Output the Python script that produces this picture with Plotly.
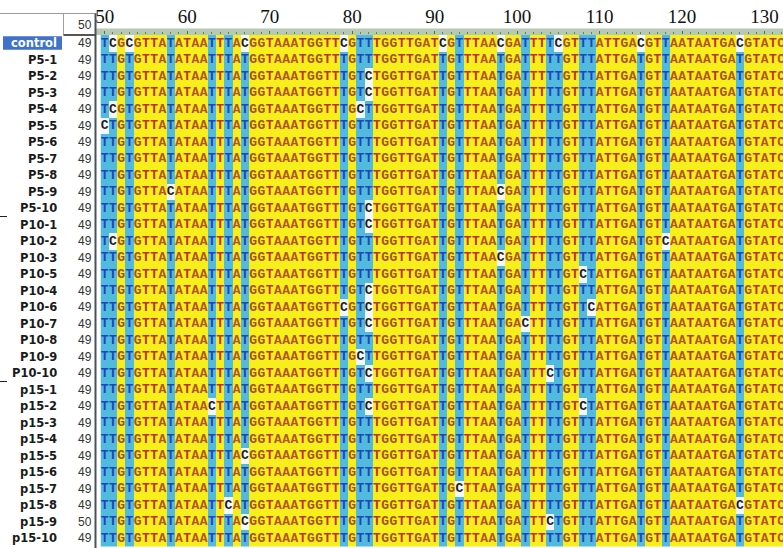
import plotly.graph_objects as go

W, H = 783, 548

# ---------------- data ----------------
row_names = ["control",
             "P5-1", "P5-2", "P5-3", "P5-4", "P5-5", "P5-6", "P5-7", "P5-8", "P5-9", "P5-10",
             "P10-1", "P10-2", "P10-3", "P10-5", "P10-4", "P10-6", "P10-7", "P10-8", "P10-9", "P10-10",
             "p15-1", "p15-2", "p15-3", "p15-4", "p15-5", "p15-6", "p15-7", "p15-8", "p15-9", "p15-10"]

start_numbers = [49,
                 49, 49, 49, 49, 49, 49, 49, 49, 49, 49,
                 49, 49, 49, 49, 49, 49, 49, 49, 49, 49,
                 49, 49, 49, 49, 49, 49, 49, 49, 50, 49]

header_number = 50
first_position = 50
ruler_labels = [50, 60, 70, 80, 90, 100, 110, 120, 130]

sequences_raw = [
    "TCGCGTTATA TAATTTACGG TAAATGGTTC GTTTGGTTGA TCGTTTAACG ATTTTCGTTT ATTGACGTTA ATAATGACGT ATC",  # control
    "TTGTGTTATA TAATTTATGG TAAATGGTTT GTTTGGTTGA TTGTTTAATG ATTTTTGTTT ATTGATGTTA ATAATGATGT ATC",  # P5-1
    "TTGTGTTATA TAATTTATGG TAAATGGTTT GTCTGGTTGA TTGTTTAATG ATTTTTGTTT ATTGATGTTA ATAATGATGT ATC",  # P5-2
    "TTGTGTTATA TAATTTATGG TAAATGGTTT GTCTGGTTGA TTGTTTAATG ATTTTTGTTT ATTGATGTTA ATAATGATGT ATC",  # P5-3
    "TCGTGTTATA TAATTTATGG TAAATGGTTT GCTTGGTTGA TTGTTTAATG ATTTTTGTTT ATTGATGTTA ATAATGATGT ATC",  # P5-4
    "CTGTGTTATA TAATTTATGG TAAATGGTTT GTTTGGTTGA TTGTTTAATG ATTTTTGTTT ATTGATGTTA ATAATGATGT ATC",  # P5-5
    "TTGTGTTATA TAATTTATGG TAAATGGTTT GTTTGGTTGA TTGTTTAATG ATTTTTGTTT ATTGATGTTA ATAATGATGT ATC",  # P5-6
    "TTGTGTTATA TAATTTATGG TAAATGGTTT GTTTGGTTGA TTGTTTAATG ATTTTTGTTT ATTGATGTTA ATAATGATGT ATC",  # P5-7
    "TTGTGTTATA TAATTTATGG TAAATGGTTT GTTTGGTTGA TTGTTTAATG ATTTTTGTTT ATTGATGTTA ATAATGATGT ATC",  # P5-8
    "TTGTGTTACA TAATTTATGG TAAATGGTTT GTTTGGTTGA TTGTTTAACG ATTTTTGTTT ATTGATGTTA ATAATGATGT ATC",  # P5-9
    "TTGTGTTATA TAATTTATGG TAAATGGTTT GTCTGGTTGA TTGTTTAATG ATTTTTGTTT ATTGATGTTA ATAATGATGT ATC",  # P5-10
    "TTGTGTTATA TAATTTATGG TAAATGGTTT GTCTGGTTGA TTGTTTAATG ATTTTTGTTT ATTGATGTTA ATAATGATGT ATC",  # P10-1
    "TCGTGTTATA TAATTTATGG TAAATGGTTT GTTTGGTTGA TTGTTTAATG ATTTTTGTTT ATTGATGTCA ATAATGATGT ATC",  # P10-2
    "TTGTGTTATA TAATTTATGG TAAATGGTTT GTTTGGTTGA TTGTTTAACG ATTTTTGTTT ATTGATGTTA ATAATGATGT ATC",  # P10-3
    "TTGTGTTATA TAATTTATGG TAAATGGTTT GTTTGGTTGA TTGTTTAATG ATTTTTGTCT ATTGATGTTA ATAATGATGT ATC",  # P10-5
    "TTGTGTTATA TAATTTATGG TAAATGGTTT GTCTGGTTGA TTGTTTAATG ATTTTTGTTT ATTGATGTTA ATAATGATGT ATC",  # P10-4
    "TTGTGTTATA TAATTTATGG TAAATGGTTC GTCTGGTTGA TTGTTTAATG ATTTTTGTTC ATTGATGTTA ATAATGATGT ATC",  # P10-6
    "TTGTGTTATA TAATTTATGG TAAATGGTTT GTCTGGTTGA TTGTTTAATG ACTTTTGTTT ATTGATGTTA ATAATGATGT ATC",  # P10-7
    "TTGTGTTATA TAATTTATGG TAAATGGTTT GTTTGGTTGA TTGTTTAATG ATTTTTGTTT ATTGATGTTA ATAATGATGT ATC",  # P10-8
    "TTGTGTTATA TAATTTATGG TAAATGGTTT GCTTGGTTGA TTGTTTAATG ATTTTTGTTT ATTGATGTTA ATAATGATGT ATC",  # P10-9
    "TTGTGTTATA TAATTTATGG TAAATGGTTT GTCTGGTTGA TTGTTTAATG ATTTCTGTTT ATTGATGTTA ATAATGATGT ATC",  # P10-10
    "TTGTGTTATA TAATTTATGG TAAATGGTTT GTTTGGTTGA TTGTTTAATG ATTTTTGTTT ATTGATGTTA ATAATGATGT ATC",  # p15-1
    "TTGTGTTATA TAACTTATGG TAAATGGTTT GTCTGGTTGA TTGTTTAATG ATTTTTGTCT ATTGATGTTA ATAATGATGT ATC",  # p15-2
    "TTGTGTTATA TAATTTATGG TAAATGGTTT GTTTGGTTGA TTGTTTAATG ATTTTTGTTT ATTGATGTTA ATAATGATGT ATC",  # p15-3
    "TTGTGTTATA TAATTTATGG TAAATGGTTT GTTTGGTTGA TTGTTTAATG ATTTTTGTTT ATTGATGTTA ATAATGATGT ATC",  # p15-4
    "TTGTGTTATA TAATTTACGG TAAATGGTTT GTTTGGTTGA TTGTTTAATG ATTTTTGTTT ATTGATGTTA ATAATGATGT ATC",  # p15-5
    "TTGTGTTATA TAATTTATGG TAAATGGTTT GTTTGGTTGA TTGTTTAATG ATTTTTGTTT ATTGATGTTA ATAATGATGT ATC",  # p15-6
    "TTGTGTTATA TAATTTATGG TAAATGGTTT GTTTGGTTGA TTGCTTAATG ATTTTTGTTT ATTGATGTTA ATAATGATGT ATC",  # p15-7
    "TTGTGTTATA TAATTCATGG TAAATGGTTT GTTTGGTTGA TTGTTTAATG ATTTTTGTTT ATTGATGTTA ATAATGACGT ATC",  # p15-8
    "TTGTGTTATA TAATTTACGG TAAATGGTTT GTTTGGTTGA TTGTTTAATG ATTTCTGTTT ATTGATGTTA ATAATGATGT ATC",  # p15-9
    "TTGTGTTATA TAATTTATGG TAAATGGTTT GTTTGGTTGA TTGTTTAATG ATTTTTGTTT ATTGATGTTA ATAATGATGT ATC",  # p15-10
]

# ---------------- styles ----------------
YELLOW = "#f6ef1c"
BLUE = "#52b9df"
WHITE = "#f3f7f9"
LETTER_YELLOW = {"T": "#c2302a", "A": "#b5541f", "G": "#a6521d", "C": "#b5541f"}
LETTER_BLUE = "#1c47b8"
LETTER_WHITE = "#1e1e1e"

sequences = [s.replace(" ", "") for s in sequences_raw]
n_rows = len(sequences)
n_cols = len(sequences[0])
positions = [first_position + i for i in range(n_cols)]

# columns where the residue varies between clones (C/T sites)
variable = [len(set(seq[c] for seq in sequences)) > 1 for c in range(n_cols)]

z = []
tx, ty, tt, tc = [], [], [], []
for r, seq in enumerate(sequences):
    zr = []
    for c, ch in enumerate(seq):
        if not variable[c]:
            zr.append(0)
            col = LETTER_YELLOW[ch]
        elif ch == "C":
            zr.append(2)
            col = LETTER_WHITE
        else:
            zr.append(1)
            col = LETTER_BLUE
        tx.append(positions[c])
        ty.append(r)
        tt.append(ch)
        tc.append(col)
    z.append(zr)

fig = go.Figure()
fig.add_trace(go.Heatmap(
    x=positions, y=list(range(n_rows)), z=z, zmin=0, zmax=2,
    colorscale=[[0, YELLOW], [0.333, YELLOW], [0.334, BLUE], [0.666, BLUE], [0.667, WHITE], [1, WHITE]],
    showscale=False, hoverinfo="skip"))
fig.add_trace(go.Scatter(
    x=tx, y=ty, text=tt, mode="text",
    textfont=dict(family="Liberation Mono, Courier New, monospace", size=13, color=tc, weight="bold"),
    hoverinfo="skip", showlegend=False))

# geometry (pixels)
seq_left = 100.5
col_w = 8.25
top_px = 35.0
bottom_px = 546.5

def px(x):
    return x / W

def py(y):
    return 1 - y / H

x_max = first_position - 0.5 + (W - seq_left) / col_w

fig.update_layout(
    width=W, height=H, margin=dict(l=0, r=0, t=0, b=0, autoexpand=False),
    paper_bgcolor="white", plot_bgcolor="white", showlegend=False,
    xaxis=dict(domain=[px(seq_left), 1], range=[first_position - 0.5, x_max], automargin=False,
               side="top", anchor="y", showgrid=False, zeroline=False, showline=False,
               tickmode="array", tickvals=ruler_labels, ticktext=[str(v) for v in ruler_labels],
               ticks="outside", ticklen=3, tickcolor="#3d7a3d", tickwidth=1,
               tickfont=dict(family="Liberation Serif, Times New Roman, serif", size=19, color="#111"),
               minor=dict(ticks="outside", dtick=1, tick0=first_position, ticklen=2,
                          tickcolor="#4f8a4f", tickwidth=1)),
    yaxis=dict(domain=[py(bottom_px), py(top_px)], range=[n_rows - 0.5, -0.5], automargin=False,
               showgrid=False, zeroline=False, showticklabels=False, ticks=""),
)

shapes = []
# ruler bar
shapes.append(dict(type="rect", xref="paper", yref="paper", x0=px(96), x1=1, y0=py(35), y1=py(28.5),
                   fillcolor="#b7c9b3", line=dict(width=0), layer="below"))
# header lines
shapes.append(dict(type="line", xref="paper", yref="paper", x0=0, x1=px(97), y0=py(13.5), y1=py(13.5),
                   line=dict(color="#9a9a9a", width=1)))
shapes.append(dict(type="line", xref="paper", yref="paper", x0=px(63.5), x1=px(63.5), y0=py(13.5), y1=py(35),
                   line=dict(color="#a0a0a0", width=1)))
shapes.append(dict(type="line", xref="paper", yref="paper", x0=px(63.5), x1=px(96), y0=py(35), y1=py(35),
                   line=dict(color="#555555", width=2)))
shapes.append(dict(type="line", xref="paper", yref="paper", x0=px(95.5), x1=px(95.5), y0=py(13.5), y1=0,
                   line=dict(color="#505050", width=2)))
# control highlight box
shapes.append(dict(type="rect", xref="paper", yref="y", x0=px(3), x1=px(62), y0=-0.42, y1=0.4,
                   fillcolor="#3f72c8", line=dict(width=0), layer="below"))
# group separators at the left edge
for b in (10.5, 20.5):
    shapes.append(dict(type="line", xref="paper", yref="y", x0=0, x1=px(7), y0=b, y1=b,
                       line=dict(color="#222", width=1)))
fig.update_layout(shapes=shapes)

annotations = []
for r, (name, num) in enumerate(zip(row_names, start_numbers)):
    annotations.append(dict(xref="paper", yref="y", x=px(59), y=r, text=name, showarrow=False,
                            xanchor="right", yanchor="middle",
                            font=dict(family="DejaVu Sans, Verdana, sans-serif", size=11.5,
                                      color="white" if r == 0 else "#1a1a1a", weight="bold")))
    annotations.append(dict(xref="paper", yref="y", x=px(94), y=r, text=str(num), showarrow=False,
                            xanchor="right", yanchor="middle",
                            font=dict(family="Liberation Sans, Arial, sans-serif", size=12, color="#333")))
annotations.append(dict(xref="paper", yref="paper", x=px(94), y=py(25), text=str(header_number),
                        showarrow=False, xanchor="right", yanchor="middle",
                        font=dict(family="Liberation Sans, Arial, sans-serif", size=12, color="#333")))
fig.update_layout(annotations=annotations)

fig.write_html("out.html", config={"displayModeBar": False},
               post_script="document.body.style.margin='0px';document.body.style.overflow='hidden';")
